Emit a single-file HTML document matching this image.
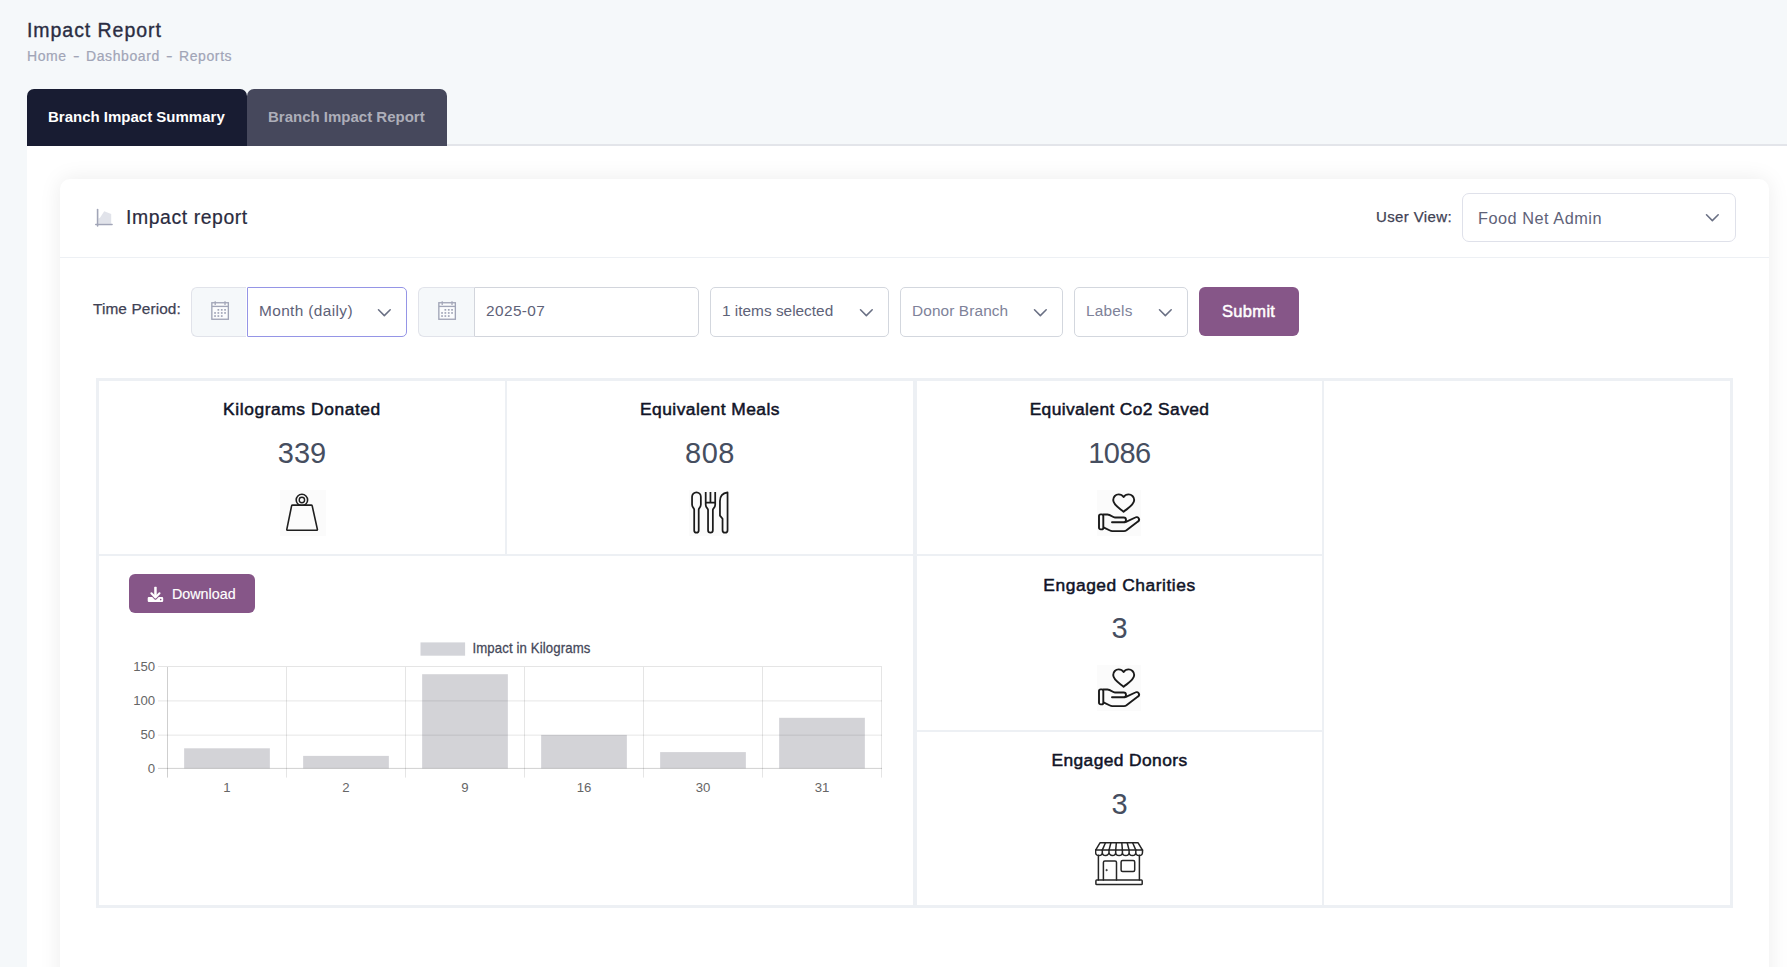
<!DOCTYPE html>
<html lang="en">
<head>
<meta charset="utf-8">
<title>Impact Report</title>
<style>
*{box-sizing:border-box;margin:0;padding:0}
html,body{width:1787px;height:967px;overflow:hidden}
body{background:#f5f8fa;font-family:"Liberation Sans",sans-serif;position:relative;color:#3f4254}
.a{position:absolute}
.t{position:absolute;white-space:nowrap;line-height:1}
.b{font-weight:bold}
.ln{position:absolute;background:#edf0f4}
.sel{position:absolute;background:#fff;border:1px solid #d3d7de;border-radius:5px}
.chev{position:absolute}

.bc{font-size:14px;color:#a1a5b7;-webkit-text-stroke:.2px #a1a5b7}
.ch{font-size:17.4px;color:#111427;text-align:center;font-weight:normal;-webkit-text-stroke:.5px #111427}
.num{font-size:29px;color:#464e5f;text-align:center}
</style>
</head>
<body>
<!-- page title -->
<div class="t" id="ttl" style="left:27px;top:21px;font-size:19.5px;color:#2b2d42;letter-spacing:.95px;-webkit-text-stroke:0.35px #2b2d42">Impact Report</div>
<div class="t bc" id="bc1" style="left:27px;top:49px;letter-spacing:.6px;font-size:14px">Home</div>
<div class="t bc" id="bc2" style="left:72.8px;top:49px;transform:scaleX(1.4);transform-origin:left">-</div>
<div class="t bc" id="bc3" style="left:86px;top:49px;letter-spacing:.6px;font-size:14px">Dashboard</div>
<div class="t bc" id="bc4" style="left:165.9px;top:49px;transform:scaleX(1.4);transform-origin:left">-</div>
<div class="t bc" id="bc5" style="left:179px;top:49px;letter-spacing:.6px;font-size:14px">Reports</div>

<!-- tabs -->
<div class="a" style="left:447px;top:144px;width:1340px;height:2px;background:#e3e5ea"></div>
<div class="a" style="left:27px;top:89px;width:220px;height:57px;background:#181c32;border-radius:7px 7px 0 0"></div>
<div class="a" style="left:247px;top:89px;width:200px;height:57px;background:#46485c;border-radius:7px 7px 0 0"></div>
<div class="t b" id="tab1" style="left:48px;top:109px;font-size:15px;color:#fff">Branch Impact Summary</div>
<div class="t b" id="tab2" style="left:268px;top:109px;font-size:15px;color:#adaeb9">Branch Impact Report</div>

<!-- white content -->
<div class="a" style="left:27px;top:146px;width:1760px;height:821px;background:#fff"></div>
<!-- card -->
<div class="a" id="card" style="left:60px;top:179px;width:1709px;height:900px;background:#fff;border-radius:10px;box-shadow:0 0 22px rgba(0,0,0,0.078)"></div>
<div class="ln" style="left:60px;top:257px;width:1709px;height:1px"></div>

<!-- card header -->
<svg class="a" style="left:94px;top:207px" width="20" height="21" viewBox="0 0 20 21">
  <path d="M4.5 11.5 L6 10.8 L10.2 4.3 L17.2 7 L17.2 16.7 L4.5 16.7 Z" fill="#e1e3ea"/>
  <rect x="2.8" y="1.8" width="1.6" height="18" rx=".8" fill="#a1a5b7"/>
  <rect x="1" y="16.7" width="17.8" height="1.5" rx=".75" fill="#a1a5b7"/>
</svg>
<div class="t" id="h1" style="left:126px;top:208px;font-size:19.4px;color:#2b2b40;letter-spacing:.58px;-webkit-text-stroke:.2px #2b2b40">Impact report</div>
<div class="t" id="uv" style="left:1376px;top:209px;font-size:15px;color:#3f4254;-webkit-text-stroke:.25px #3f4254;letter-spacing:.37px">User View:</div>
<div class="sel" style="left:1462px;top:193px;width:274px;height:49px;border-radius:7px;border-color:#dfe1ea"></div>
<div class="t" id="fna" style="left:1478px;top:210px;font-size:16.3px;color:#5e6278;letter-spacing:.52px">Food Net Admin</div>
<svg class="chev" style="left:1704.8px;top:213.4px" width="15" height="10" viewBox="0 0 15 10"><path d="M1.5 1.8 L7.35 7.6 L13.2 1.8" fill="none" stroke="#6a7084" stroke-width="1.55" stroke-linecap="round" stroke-linejoin="round"/></svg>

<!-- filter row -->
<div class="t" id="tp" style="left:93px;top:301px;font-size:15.4px;color:#3f4254;-webkit-text-stroke:.25px #3f4254;letter-spacing:.1px">Time Period:</div>

<div class="a" style="left:191px;top:287px;width:55px;height:50px;background:#f5f8fa;border:1px solid #e1e3ea;border-right:0;border-radius:6px 0 0 6px"></div>
<div class="a" style="left:247px;top:287px;width:160px;height:50px;background:#fff;border:1px solid #9595e6;border-radius:1px 5px 5px 1px"></div>
<svg class="a cal" style="left:210px;top:300px" width="20" height="21" viewBox="0 0 20 21"><use href="#calico"/></svg>
<div class="t" id="md" style="left:259px;top:303px;font-size:15.4px;color:#5e6278;letter-spacing:.38px">Month (daily)</div>
<svg class="chev" style="left:377px;top:307.7px" width="15" height="10" viewBox="0 0 15 10"><use href="#chv"/></svg>

<div class="a" style="left:418px;top:287px;width:56px;height:50px;background:#f5f8fa;border:1px solid #e1e3ea;border-right:0;border-radius:6px 0 0 6px"></div>
<div class="a" style="left:474px;top:287px;width:225px;height:50px;background:#fff;border:1px solid #d2d5dc;border-radius:0 5px 5px 0"></div>
<svg class="a cal" style="left:437px;top:300px" width="20" height="21" viewBox="0 0 20 21"><use href="#calico"/></svg>
<div class="t" id="dt" style="left:486px;top:303px;font-size:15.4px;color:#5e6278;letter-spacing:.4px">2025-07</div>

<div class="sel" style="left:710px;top:287px;width:179px;height:50px"></div>
<div class="t" id="s1" style="left:722px;top:303px;font-size:15.4px;color:#5e6278;letter-spacing:0px">1 items selected</div>
<svg class="chev" style="left:859px;top:307.7px" width="15" height="10" viewBox="0 0 15 10"><use href="#chv"/></svg>

<div class="sel" style="left:900px;top:287px;width:163px;height:50px"></div>
<div class="t" id="s2" style="left:912px;top:303px;font-size:15.4px;color:#7e8299;letter-spacing:.11px">Donor Branch</div>
<svg class="chev" style="left:1033px;top:307.7px" width="15" height="10" viewBox="0 0 15 10"><use href="#chv"/></svg>

<div class="sel" style="left:1074px;top:287px;width:114px;height:50px"></div>
<div class="t" id="s3" style="left:1086px;top:303px;font-size:15.4px;color:#7e8299;letter-spacing:.2px">Labels</div>
<svg class="chev" style="left:1158px;top:307.7px" width="15" height="10" viewBox="0 0 15 10"><use href="#chv"/></svg>

<div class="a" style="left:1199px;top:287px;width:100px;height:49px;background:#865688;border-radius:6px"></div>
<div class="t" id="sub" style="left:1222px;top:303px;font-size:16.5px;color:#fff;letter-spacing:.32px;-webkit-text-stroke:.5px #fff">Submit</div>

<!-- table frame -->
<div class="a" style="left:96px;top:378px;width:1637px;height:530px;border:3px solid #edf0f4"></div>
<div class="ln" style="left:505px;top:381px;width:2px;height:173px"></div>
<div class="ln" style="left:913px;top:381px;width:4px;height:524px"></div>
<div class="ln" style="left:1322px;top:381px;width:2px;height:524px"></div>
<div class="ln" style="left:99px;top:554px;width:1223px;height:2px"></div>
<div class="ln" style="left:917px;top:730px;width:405px;height:2px"></div>

<!-- cells -->
<div class="t b ch" id="c1" style="left:98px;width:408px;top:401px;letter-spacing:.58px">Kilograms Donated</div>
<div class="t num" id="n1" style="left:98px;width:408px;top:439px;letter-spacing:0px">339</div>
<div class="t b ch" id="c2" style="left:506px;width:408px;top:401px;letter-spacing:.47px">Equivalent Meals</div>
<div class="t num" id="n2" style="left:506px;width:408px;top:439px;letter-spacing:.6px">808</div>
<div class="t b ch" id="c3" style="left:916px;width:407px;top:401px;letter-spacing:.38px">Equivalent Co2 Saved</div>
<div class="t num" id="n3" style="left:916px;width:407px;top:439px;letter-spacing:-.5px">1086</div>
<div class="t b ch" id="c4" style="left:916px;width:407px;top:577px;letter-spacing:.54px">Engaged Charities</div>
<div class="t num" id="n4" style="left:916px;width:407px;top:614px">3</div>
<div class="t b ch" id="c5" style="left:916px;width:407px;top:752px;letter-spacing:.39px">Engaged Donors</div>
<div class="t num" id="n5" style="left:916px;width:407px;top:790px">3</div>

<!-- download -->
<div class="a" style="left:129px;top:574px;width:126px;height:39px;background:#865688;border-radius:6px"></div>
<div class="t" id="dl" style="left:172px;top:587px;font-size:14.3px;color:#fff;-webkit-text-stroke:.15px #fff">Download</div>

<svg class="a" id="chart" style="left:0;top:0" width="1787" height="967" viewBox="0 0 1787 967" font-family="Liberation Sans, sans-serif">
<rect x="420.5" y="642.4" width="44.6" height="13.3" fill="#d3d4d9"/>
<text id="lg" x="472.4" y="653.1" font-size="13.2" fill="#454859" letter-spacing=".12" stroke="#454859" stroke-width=".25" transform="translate(0,653.1) scale(1,1.06) translate(0,-653.1)">Impact in Kilograms</text>
<line x1="158" x2="882.00" y1="666.50" y2="666.50" stroke="rgba(0,0,0,0.1)" stroke-width="1"/>
<text x="155.2" y="671.20" font-size="13.2" fill="#666" text-anchor="end">150</text>
<line x1="158" x2="882.00" y1="700.90" y2="700.90" stroke="rgba(0,0,0,0.1)" stroke-width="1"/>
<text x="155.2" y="705.00" font-size="13.2" fill="#666" text-anchor="end">100</text>
<line x1="158" x2="882.00" y1="735.15" y2="735.15" stroke="rgba(0,0,0,0.1)" stroke-width="1"/>
<text x="155.2" y="739.10" font-size="13.2" fill="#666" text-anchor="end">50</text>
<line x1="158" x2="882.00" y1="768.40" y2="768.40" stroke="rgba(0,0,0,0.19)" stroke-width="1"/>
<text x="155.2" y="773.10" font-size="13.2" fill="#666" text-anchor="end">0</text>
<line x1="167.50" x2="167.50" y1="667.00" y2="777.6" stroke="rgba(0,0,0,0.19)" stroke-width="1"/>
<line x1="286.50" x2="286.50" y1="667.00" y2="777.6" stroke="rgba(0,0,0,0.1)" stroke-width="1"/>
<line x1="405.50" x2="405.50" y1="667.00" y2="777.6" stroke="rgba(0,0,0,0.1)" stroke-width="1"/>
<line x1="524.50" x2="524.50" y1="667.00" y2="777.6" stroke="rgba(0,0,0,0.1)" stroke-width="1"/>
<line x1="643.50" x2="643.50" y1="667.00" y2="777.6" stroke="rgba(0,0,0,0.1)" stroke-width="1"/>
<line x1="762.50" x2="762.50" y1="667.00" y2="777.6" stroke="rgba(0,0,0,0.1)" stroke-width="1"/>
<line x1="881.50" x2="881.50" y1="667.00" y2="777.6" stroke="rgba(0,0,0,0.1)" stroke-width="1"/>
<rect x="184.15" y="748.3" width="85.7" height="20.10" fill="rgba(63,66,84,0.23)"/>
<text x="227.00" y="792.4" font-size="13.2" fill="#666" text-anchor="middle">1</text>
<rect x="303.15" y="755.9" width="85.7" height="12.50" fill="rgba(63,66,84,0.23)"/>
<text x="346.00" y="792.4" font-size="13.2" fill="#666" text-anchor="middle">2</text>
<rect x="422.15" y="674.2" width="85.7" height="94.20" fill="rgba(63,66,84,0.23)"/>
<text x="465.00" y="792.4" font-size="13.2" fill="#666" text-anchor="middle">9</text>
<rect x="541.15" y="734.9" width="85.7" height="33.50" fill="rgba(63,66,84,0.23)"/>
<text x="584.00" y="792.4" font-size="13.2" fill="#666" text-anchor="middle">16</text>
<rect x="660.15" y="752.1" width="85.7" height="16.30" fill="rgba(63,66,84,0.23)"/>
<text x="703.00" y="792.4" font-size="13.2" fill="#666" text-anchor="middle">30</text>
<rect x="779.15" y="717.8" width="85.7" height="50.60" fill="rgba(63,66,84,0.23)"/>
<text x="822.00" y="792.4" font-size="13.2" fill="#666" text-anchor="middle">31</text>
</svg>
<!-- weight icon -->
<div class="a" style="left:279.5px;top:489.8px;width:46px;height:46px;background:#fbfbfb"></div>
<svg class="a" style="left:279px;top:490.4px" width="46" height="46" viewBox="0 0 46 46" fill="none" stroke="#1f1f1f" stroke-width="1.6" stroke-linejoin="round">
  <circle cx="22.9" cy="10" r="5.7"/>
  <circle cx="22.9" cy="10" r="2.7" stroke-width="1.4"/>
  <path d="M13.6 15.1 H32.2 Q33 15.1 33.2 15.9 L38.4 39.3 Q38.6 40.3 37.6 40.3 H8.6 Q7.6 40.3 7.8 39.3 L12.6 15.9 Q12.8 15.1 13.6 15.1 Z" fill="#fcfcfc"/>
</svg>
<!-- cutlery icon -->
<div class="a" style="left:689px;top:489.6px;width:40.8px;height:46px;background:#fbfbfb"></div>
<svg class="a" style="left:689px;top:489.7px" width="41" height="46" viewBox="0 0 41 46" fill="none" stroke="#1a1a1a" stroke-width="1.75" stroke-linejoin="round" stroke-linecap="butt">
  <path d="M5.2 19.6 C5.2 18 3.05 17.6 3.05 14.6 V6.85 A4.4 4.4 0 0 1 11.85 6.85 V14.6 C11.85 17.6 9.7 18 9.7 19.6 V40.4 A2.25 2.25 0 0 1 5.2 40.4 Z"/>
  <path d="M16.7 1.9 V14.8 C16.7 18 19.05 18.2 19.05 20 V40.3 A2.4 2.4 0 0 0 23.85 40.3 V20 C23.85 18.2 26.2 18 26.2 14.8 V1.9 M21.45 1.9 V12.5 M16.7 12.5 H26.2"/>
  <path d="M38.55 2.45 C34 3.2 30.95 6.5 30.95 11 V25.6 L33.55 28.8 V40.2 A2.5 2.5 0 0 0 38.55 40.2 Z"/>
</svg>
<!-- hand heart icons -->
<div class="a" style="left:1096.8px;top:489.6px;width:44.6px;height:46px;background:#fbfbfb"></div>
<svg class="a" style="left:1096.8px;top:489.6px" width="46" height="47" viewBox="0 0 46 47"><use href="#hh"/></svg>
<div class="a" style="left:1096.8px;top:664.6px;width:44.6px;height:46px;background:#fbfbfb"></div>
<svg class="a" style="left:1096.8px;top:664.6px" width="46" height="47" viewBox="0 0 46 47"><use href="#hh"/></svg>
<!-- store icon -->
<svg class="a" style="left:1094.9px;top:841.75px" width="49" height="45" viewBox="0 0 49 45" fill="none" stroke="#262626" stroke-width="1.5" stroke-linejoin="round" stroke-linecap="round">
  <path d="M5 0.8 H43.1 L47.5 8.1 H0.6 Z"/>
  <path d="M10.45 0.8 L7.3 8.1 M15.9 0.8 L14 8.1 M21.35 0.8 L20.7 8.1 M26.8 0.8 L27.4 8.1 M32.2 0.8 L34.1 8.1 M37.65 0.8 L40.8 8.1"/>
  <path d="M0.6 8.1 V10.2 A3.35 3.35 0 0 0 7.3 10.2 V8.1 M7.3 10.2 A3.35 3.35 0 0 0 14 10.2 V8.1 M14 10.2 A3.35 3.35 0 0 0 20.7 10.2 V8.1 M20.7 10.2 A3.35 3.35 0 0 0 27.4 10.2 V8.1 M27.4 10.2 A3.35 3.35 0 0 0 34.1 10.2 V8.1 M34.1 10.2 A3.35 3.35 0 0 0 40.8 10.2 V8.1 M40.8 10.2 A3.35 3.35 0 0 0 47.5 10.2 V8.1"/>
  <path d="M3.4 13.2 V38.1 M44.4 13.2 V38.1"/>
  <rect x="0.9" y="38.1" width="46.3" height="4.4" rx="0.8"/>
  <path d="M8.4 38.1 V20.5 Q8.4 19 9.9 19 H20 Q21.5 19 21.5 20.5 V38.1"/>
  <rect x="26.1" y="18.6" width="13.6" height="10.9" rx="1.5"/>
  <circle cx="11.5" cy="28.1" r="0.7" fill="#262626" stroke-width="0.6"/>
</svg>
<!-- download icon -->
<svg class="a" style="left:147px;top:586px" width="18" height="18" viewBox="0 0 18 18" fill="#fff">
  <rect x="7.2" y="0.8" width="2.5" height="9.5" rx=".6"/>
  <path d="M4.4 7.3 L8.45 11.4 L12.5 7.3" fill="none" stroke="#fff" stroke-width="2.1" stroke-linecap="round" stroke-linejoin="round"/>
  <path d="M1.9 11 H5.2 L7.6 13.4 Q8.45 14.1 9.3 13.4 L11.7 11 H15 Q16.2 11 16.2 12.2 V14.8 Q16.2 16 15 16 H1.9 Q0.7 16 0.7 14.8 V12.2 Q0.7 11 1.9 11 Z"/>
  <circle cx="13.7" cy="13.6" r=".8" fill="#865688"/>
</svg>
<svg width="0" height="0" style="position:absolute">
 <defs>
  <g id="hh" fill="none" stroke="#1a1a1a" stroke-width="1.9" stroke-linejoin="round" stroke-linecap="round">
    <path d="M26.6 21.7 C22 18 16.2 15 16.2 10.1 C16.2 6.8 18.7 4.4 21.6 4.4 C23.7 4.4 25.5 5.4 26.6 7.1 C27.7 5.4 29.5 4.4 31.6 4.4 C34.5 4.4 37.2 6.8 37.2 10.1 C37.2 15 31.2 18 26.6 21.7 Z"/>
    <rect x="2" y="24.4" width="4.3" height="15" rx="1.7"/>
    <path d="M6.3 24.5 H10.4 C14 24.5 15.5 27.5 18 27.5 H26.6 A2.35 2.35 0 0 1 26.6 32.3 H15"/>
    <path d="M29 31.8 L38.3 27.5 A2.4 2.4 0 0 1 40.9 31.6 L29.5 40.3 Q28.4 41.1 27 41.1 H15.2 Q14 41.1 13 40.5 L7 37.6"/>
  </g>

  <path id="chv" d="M1.5 1.8 L7.35 7.6 L13.2 1.8" fill="none" stroke="#6a7084" stroke-width="1.55" stroke-linecap="round" stroke-linejoin="round"/>
  <g id="calico" fill="none" stroke="#a1a5b7">
    <rect x="1.85" y="2.75" width="16.5" height="16.5" stroke-width="1.35" fill="#fbfcfd"/>
    <path d="M1.85 6.4 H18.35" stroke-width="1.35"/>
    <path d="M5.2 1.2 V4.9 M15 1.2 V4.9" stroke-width="1.25"/>
    <g fill="#a1a5b7" stroke="none">
      <rect x="7.5" y="9" width="1.7" height="1.7"/><rect x="10.9" y="9" width="1.7" height="1.7"/><rect x="14.2" y="9" width="1.7" height="1.7"/>
      <rect x="4.2" y="12.1" width="1.7" height="1.7"/><rect x="7.5" y="12.1" width="1.7" height="1.7"/><rect x="10.9" y="12.1" width="1.7" height="1.7"/><rect x="14.2" y="12.1" width="1.7" height="1.7"/>
      <rect x="4.2" y="15.2" width="1.7" height="1.7"/><rect x="7.5" y="15.2" width="1.7" height="1.7"/><rect x="10.9" y="15.2" width="1.7" height="1.7"/>
    </g>
  </g>
 </defs>
</svg>
</body>
</html>
